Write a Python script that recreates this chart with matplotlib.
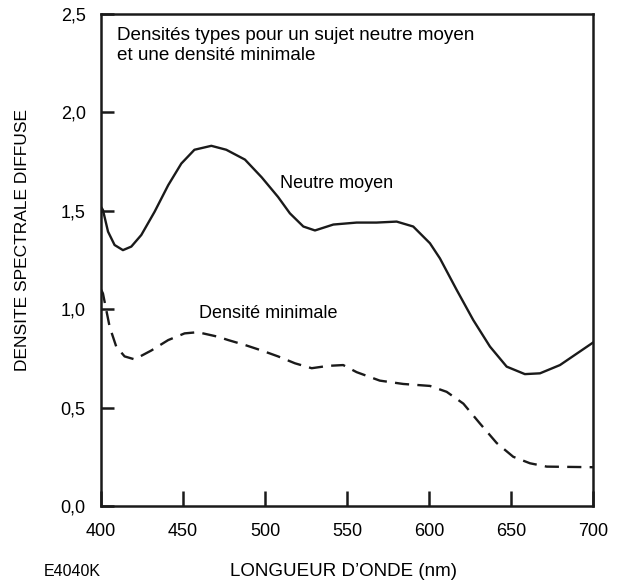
import matplotlib
matplotlib.use("Agg")
import matplotlib.pyplot as plt

plt.rcParams['font.family'] = ['Liberation Sans', 'DejaVu Sans']

# courbe "Neutre moyen" (trait plein)
neutre_nm = [400, 401.2, 404.3, 408.3, 413.4, 418.5, 424.6, 432.7, 441, 449, 457,
             467.3, 476.4, 487.8, 498, 508, 515.2, 523.4, 530.5, 541.7, 555.9, 568,
             580.3, 590.4, 600.6, 606.7, 616.9, 627, 637.2, 647.4, 658.5, 667.7,
             679.9, 700]
neutre_d = [1.52, 1.504, 1.394, 1.326, 1.30, 1.318, 1.377, 1.495, 1.63, 1.74, 1.81,
            1.83, 1.81, 1.76, 1.67, 1.57, 1.487, 1.42, 1.40, 1.43, 1.44, 1.44,
            1.445, 1.42, 1.335, 1.258, 1.098, 0.945, 0.81, 0.708, 0.67, 0.674,
            0.716, 0.83]

# courbe "Densité minimale" (tirets)
mini_nm = [400, 401.2, 405.3, 409.3, 414.4, 420.5, 430.7, 441, 451, 459, 471.3,
           477.6, 487.8, 498, 508, 518.3, 528.5, 538.6, 547.7, 555.9, 570, 584.3,
           600.6, 610.8, 621, 631, 641.3, 651.4, 661.6, 671.8, 700]
mini_d = [1.10, 1.08, 0.91, 0.81, 0.76, 0.745, 0.79, 0.843, 0.877, 0.883, 0.86,
          0.843, 0.818, 0.79, 0.76, 0.725, 0.70, 0.712, 0.716, 0.68, 0.637, 0.62,
          0.61, 0.58, 0.52, 0.42, 0.32, 0.25, 0.217, 0.20, 0.197]

xticks = [400, 450, 500, 550, 600, 650, 700]
yticks = [0.0, 0.5, 1.0, 1.5, 2.0, 2.5]
ytick_labels = ["0,0", "0,5", "1,0", "1,5", "2,0", "2,5"]

fig = plt.figure(figsize=(6.21, 5.84), dpi=100)
ax = fig.add_axes([0.1626, 0.1336, 0.7922, 0.8425])

ax.plot(neutre_nm, neutre_d, color="#1a1a1a", lw=1.7, solid_joinstyle="round")
ax.plot(mini_nm, mini_d, color="#1a1a1a", lw=1.7, dashes=(6, 3.5))

ax.set_xlim(400, 700)
ax.set_ylim(0, 2.5)
ax.set_xticks(xticks)
ax.set_xticklabels([str(t) for t in xticks])
ax.set_yticks(yticks)
ax.set_yticklabels(ytick_labels)
ax.tick_params(direction="in", width=1.8, labelsize=13, color="#1a1a1a")
ax.tick_params(axis="x", length=11, pad=12)
ax.tick_params(axis="y", length=9, pad=11)
for s in ax.spines.values():
    s.set_linewidth(1.8)
    s.set_color("#1a1a1a")

ax.text(410, 2.34, "Densités types pour un sujet neutre moyen\net une densité minimale",
        fontsize=13.6, va="center", ha="left", linespacing=1.25)
ax.text(509, 1.64, "Neutre moyen", fontsize=13, va="center", ha="left")
ax.text(460, 0.98, "Densité minimale", fontsize=13, va="center", ha="left")

fig.text(23 / 621, 1 - 240 / 584, "DENSITE SPECTRALE DIFFUSE", rotation=90,
         fontsize=12.5, ha="center", va="center")
fig.text(343 / 621, 1 - 572 / 584, "LONGUEUR D\u2019ONDE (nm)", fontsize=13.5,
         ha="center", va="center")
fig.text(44 / 621, 1 - 572 / 584, "E4040K", fontsize=11.5, ha="left", va="center")

fig.savefig("out.png", dpi=100)
